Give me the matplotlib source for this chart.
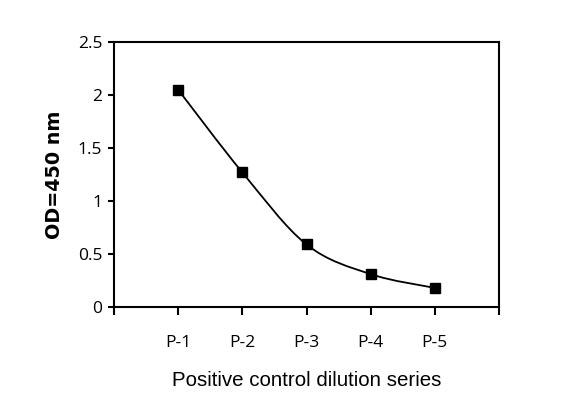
import numpy as np
import matplotlib
matplotlib.use("Agg")
import matplotlib.pyplot as plt
from matplotlib.path import Path
from matplotlib.patches import PathPatch

labels = ["P-1", "P-2", "P-3", "P-4", "P-5"]
od_values = [2.05, 1.27, 0.59, 0.31, 0.18]


def smooth_path(xs, ys, t=1 / 6):
    # bezier through the points, like an Excel smoothed line
    xs = np.asarray(xs, float)
    ys = np.asarray(ys, float)
    n = len(xs)
    verts = [(xs[0], ys[0])]
    codes = [Path.MOVETO]
    for i in range(n - 1):
        p0 = (xs[max(i - 1, 0)], ys[max(i - 1, 0)])
        p1 = (xs[i], ys[i])
        p2 = (xs[i + 1], ys[i + 1])
        p3 = (xs[min(i + 2, n - 1)], ys[min(i + 2, n - 1)])
        c1 = (p1[0] + (p2[0] - p0[0]) * t, p1[1] + (p2[1] - p0[1]) * t)
        c2 = (p2[0] - (p3[0] - p1[0]) * t, p2[1] - (p3[1] - p1[1]) * t)
        verts += [c1, c2, p2]
        codes += [Path.CURVE4] * 3
    return Path(verts, codes)


fig = plt.figure(figsize=(5.78, 4.15), dpi=100)
ax = fig.add_axes([114 / 578, 1 - 307 / 415, 385 / 578, 265 / 415])

x = np.arange(1, len(labels) + 1)
ax.add_patch(PathPatch(smooth_path(x, od_values), facecolor="none",
                       edgecolor="black", lw=1.3, zorder=2))
ax.plot(x, od_values, ls="none", marker="s", ms=7.2, color="black", zorder=3)

ax.set_xlim(0, len(labels) + 1)
ax.set_ylim(0, 2.5)
ax.set_xticks(np.arange(0, len(labels) + 2))
ax.set_xticklabels([""] + labels + [""], fontfamily="Open Sans", fontsize=12.5)
ax.set_yticks([0, 0.5, 1, 1.5, 2, 2.5])
ax.set_yticklabels(["0", "0.5", "1", "1.5", "2", "2.5"], fontfamily="Open Sans", fontsize=12.5)
ax.tick_params(axis="x", direction="out", length=5.5, width=1.5, pad=15)
ax.tick_params(axis="y", direction="out", length=4.5, width=1.5, pad=4)
for s in ax.spines.values():
    s.set_linewidth(1.5)

ax.set_xlabel("Positive control dilution series", fontfamily="Liberation Sans",
              fontsize=14.8, labelpad=14)
ax.set_ylabel("OD=450 nm", fontfamily="DejaVu Sans", fontweight="bold",
              fontsize=13.8, labelpad=10)

fig.savefig("out.png", dpi=100)
